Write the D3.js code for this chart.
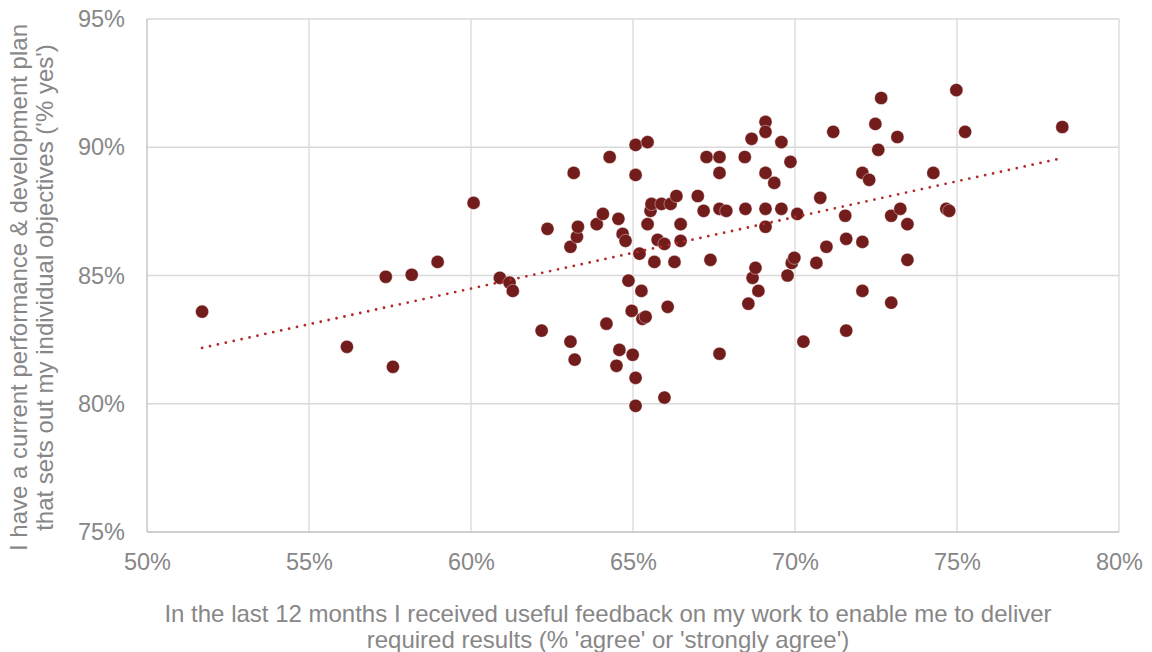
<!DOCTYPE html>
<html><head><meta charset="utf-8">
<script src="https://cdn.jsdelivr.net/npm/d3@7"></script>
<style>body{margin:0;background:#fff;} text{font-family:"Liberation Sans",Arial,sans-serif;}</style>
</head><body><svg id="c" width="1152" height="652"></svg>
<script>
// feedback (% agree) values
const feedback = [51.7,56.17,57.37,57.59,58.17,58.97,60.08,60.89,61.19,61.29,62.18,62.36,63.07,63.07,63.17,63.2,63.27,63.3,63.88,64.07,64.18,64.28,64.49,64.58,64.55,64.68,64.77,64.86,64.96,64.99,65.08,65.08,65.08,65.08,65.2,65.26,65.29,65.39,65.45,65.45,65.54,65.57,65.66,65.76,65.88,65.97,65.97,66.07,66.16,66.28,66.34,66.47,66.47,67.0,67.18,67.27,67.39,67.67,67.67,67.67,67.67,67.88,68.45,68.47,68.56,68.66,68.69,68.78,68.87,69.09,69.09,69.09,69.09,69.09,69.36,69.58,69.58,69.77,69.86,69.9,69.98,70.07,70.26,70.66,70.78,70.97,71.18,71.55,71.58,71.58,72.08,72.08,72.08,72.29,72.48,72.57,72.66,72.97,72.97,73.16,73.25,73.47,73.47,74.27,74.67,74.76,74.98,75.25,78.25];
// plan (% yes) values
const plan = [83.59,82.22,84.95,81.44,85.03,85.53,87.83,84.91,84.72,84.4,82.85,86.82,86.12,82.42,89.0,81.72,86.51,86.9,87.0,87.4,83.12,89.62,81.48,82.1,87.21,86.62,86.35,84.8,83.62,81.91,90.09,88.92,81.01,79.92,85.85,84.4,83.31,83.39,90.2,87.0,87.52,87.79,85.53,86.39,87.79,86.23,80.24,83.78,87.79,85.53,88.1,86.35,87.0,88.1,87.52,89.62,85.61,89.62,89.0,87.6,81.95,87.52,89.62,87.6,83.9,90.33,84.91,85.3,84.4,90.99,90.6,89.0,87.6,86.9,88.61,90.2,87.6,85.0,89.43,85.49,85.69,87.4,82.42,85.49,88.03,86.12,90.6,87.33,86.43,82.85,89.0,86.31,84.4,88.73,90.91,89.9,91.92,87.33,83.94,90.4,87.6,87.0,85.61,89.0,87.6,87.52,92.23,90.6,90.79];
const xTicks = [50,55,60,65,70,75,80];
const yTicks = [75,80,85,90,95];
const xTitle = ["In the last 12 months I received useful feedback on my work to enable me to deliver","required results (% 'agree' or 'strongly agree')"];
const yTitle = ["I have a current performance & development plan","that sets out my individual objectives ('% yes')"];

const svg = d3.select("#c");
const L=147,R=1119,T=19,B=532;
const x = d3.scaleLinear().domain([50,80]).range([L,R]);
const y = d3.scaleLinear().domain([75,95]).range([B,T]);
const grey="#878787";

// gridlines
svg.append("g").selectAll("line").data(xTicks.slice(1)).join("line")
  .attr("x1",d=>x(d)).attr("x2",d=>x(d)).attr("y1",T).attr("y2",B)
  .attr("stroke","#d9d9d9").attr("stroke-width",1.3);
svg.append("g").selectAll("line").data(yTicks.slice(1)).join("line")
  .attr("x1",L).attr("x2",R).attr("y1",d=>y(d)).attr("y2",d=>y(d))
  .attr("stroke","#d9d9d9").attr("stroke-width",1.3);
// axes lines
svg.append("line").attr("x1",L).attr("x2",R).attr("y1",B).attr("y2",B).attr("stroke","#bfbfbf").attr("stroke-width",1.3);
svg.append("line").attr("x1",L).attr("x2",L).attr("y1",T).attr("y2",B).attr("stroke","#bfbfbf").attr("stroke-width",1.3);

// tick labels via axes
const xa = svg.append("g").attr("transform",`translate(0,${B})`)
  .call(d3.axisBottom(x).tickValues(xTicks).tickSize(0).tickPadding(21.5).tickFormat(d=>d+"%"));
const ya = svg.append("g").attr("transform",`translate(${L},0)`)
  .call(d3.axisLeft(y).tickValues(yTicks).tickSize(0).tickPadding(22).tickFormat(d=>d+"%"));
[xa,ya].forEach(a=>{a.select(".domain").remove();
  a.selectAll("text").attr("fill",grey).style("font-size","23.5px").style("font-family","'Liberation Sans',Arial,sans-serif");});

// trend line (least squares)
const n=feedback.length, mx=d3.mean(feedback), my=d3.mean(plan);
let sxy=0,sxx=0; for(let i=0;i<n;i++){sxy+=(feedback[i]-mx)*(plan[i]-my);sxx+=(feedback[i]-mx)**2;}
const slope=sxy/sxx, icpt=my-slope*mx;
const [x0,x1]=d3.extent(feedback);

// points
svg.append("g").selectAll("circle").data(feedback.map((f,i)=>[f,plan[i]])).join("circle")
  .attr("cx",d=>x(d[0])).attr("cy",d=>y(d[1])).attr("r",6.6)
  .attr("fill","#721c1c").attr("stroke","#ffffff").attr("stroke-width",0.4);

svg.append("line").attr("x1",x(x0)).attr("y1",y(icpt+slope*x0)).attr("x2",x(x1)).attr("y2",y(icpt+slope*x1))
  .attr("stroke","#b22a2a").attr("stroke-width",2.8).attr("stroke-linecap","round").attr("stroke-dasharray","0 8.1");

// titles
const xt = svg.append("text").attr("text-anchor","middle").attr("fill",grey).style("font-size","24px");
xTitle.forEach((s,i)=>xt.append("tspan").attr("x",608).attr("y",621.5+i*26.5).text(s));
const yt = svg.append("text").attr("text-anchor","middle").attr("fill",grey).style("font-size","24px")
  .attr("transform","translate(0,287.5) rotate(-90)");
yTitle.forEach((s,i)=>yt.append("tspan").attr("x",0).attr("y",27+i*26).text(s));
</script></body></html>
